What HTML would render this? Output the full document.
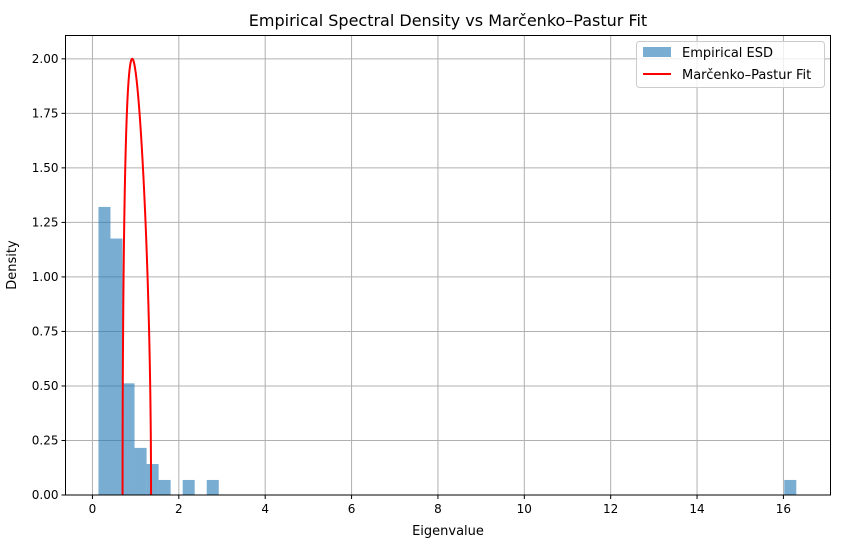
<!DOCTYPE html>
<html><head><meta charset="utf-8">
<style>
body{margin:0;background:#fff;font-family:"Liberation Sans","DejaVu Sans",sans-serif;}
svg text{font-family:"DejaVu Sans","Liberation Sans",sans-serif;}
</style></head>
<body>
<svg id="chart" width="844" height="548" xmlns="http://www.w3.org/2000/svg">
<rect width="844" height="548" fill="#fff"/>
<text x="448" y="26" text-anchor="middle" font-size="16">Empirical Spectral Density vs Marčenko–Pastur Fit</text>
<g id="grid"></g>
<g id="bars"></g>
<path id="mp" fill="none" stroke="#ff0000" stroke-width="2"/>
<rect x="65.5" y="35.5" width="765" height="459.5" fill="none" stroke="#000" stroke-width="1"/>
<g id="ticks"></g>
<text x="448" y="535" text-anchor="middle" font-size="13">Eigenvalue</text>
<text transform="translate(16,265) rotate(-90)" text-anchor="middle" font-size="13">Density</text>
<g>
<rect x="636.5" y="41.5" width="188" height="46" rx="3" fill="#fff" fill-opacity="0.8" stroke="#ccc"/>
<rect x="643" y="47" width="28" height="10" fill="#1f77b4" fill-opacity="0.6"/>
<text x="682" y="57" font-size="13">Empirical ESD</text>
<line x1="643" y1="74" x2="671" y2="74" stroke="#f00" stroke-width="2"/>
<text x="682" y="79" font-size="13">Marčenko–Pastur Fit</text>
</g>
</svg>
<script>
const binStart = 0.139;
const binWidth = 0.2786;
const binIndex = [0,1,2,3,4,5,7,9,57];
const binDensity = [1.321,1.176,0.512,0.216,0.142,0.069,0.069,0.069,0.069];
const xTicks = [0,2,4,6,8,10,12,14,16];
const yTicks = [0,0.25,0.5,0.75,1.0,1.25,1.5,1.75,2.0];
const yTickLabels = ["0.00","0.25","0.50","0.75","1.00","1.25","1.50","1.75","2.00"];
const mpLower = 0.697;
const mpUpper = 1.357;
const mpRatio = 0.0270;

const L=65.5,R=830.5,T=35.5,B=495;
const xmin=-0.624,xmax=17.09,ymin=0,ymax=2.107;
const X=v=>L+(v-xmin)/(xmax-xmin)*(R-L);
const Y=v=>B-(v-ymin)/(ymax-ymin)*(B-T);
const NS="http://www.w3.org/2000/svg";
function mk(tag,attrs,parent){const e=document.createElementNS(NS,tag);for(const k in attrs)e.setAttribute(k,attrs[k]);parent.appendChild(e);return e;}
const grid=document.getElementById('grid'),ticks=document.getElementById('ticks'),bars=document.getElementById('bars');
xTicks.forEach(t=>{
  const g=mk('line',{x1:X(t),x2:X(t),y1:T,y2:B,stroke:'#b0b0b0','stroke-width':1},grid);
  
  
  const tk=mk('line',{x1:X(t),x2:X(t),y1:B,y2:B+4,stroke:'#000'},ticks);
  
  
  const tx=mk('text',{x:X(t),y:B+18,'text-anchor':'middle','font-size':12},ticks);
  tx.textContent=t;
  
  
});
yTicks.forEach((t,i)=>{
  const g=mk('line',{x1:L,x2:R,y1:Y(t),y2:Y(t),stroke:'#b0b0b0','stroke-width':1},grid);
  
  
  const tk=mk('line',{x1:L-4,x2:L,y1:Y(t),y2:Y(t),stroke:'#000'},ticks);
  
  
  const tx=mk('text',{x:L-7,y:Y(t)+4,'text-anchor':'end','font-size':12},ticks);
  tx.textContent=yTickLabels[i];
  
  
});
binIndex.forEach((b,i)=>{
  const x0=binStart+b*binWidth,x1=x0+binWidth;
  const r=mk('rect',{x:X(x0),y:Y(binDensity[i]),width:X(x1)-X(x0),height:Y(0)-Y(binDensity[i]),fill:'#1f77b4','fill-opacity':0.6},bars);
  
  
});
let d='';const n=400;
for(let i=0;i<=n;i++){
  const x=mpLower+(mpUpper-mpLower)*i/n;
  const v=Math.sqrt(Math.max(0,(mpUpper-x)*(x-mpLower)))/(2*Math.PI*mpRatio*x);
  d+=(i?'L':'M')+X(x).toFixed(2)+','+Y(v).toFixed(2);
}
document.getElementById('mp').setAttribute('d',d);
</script>
</body></html>
